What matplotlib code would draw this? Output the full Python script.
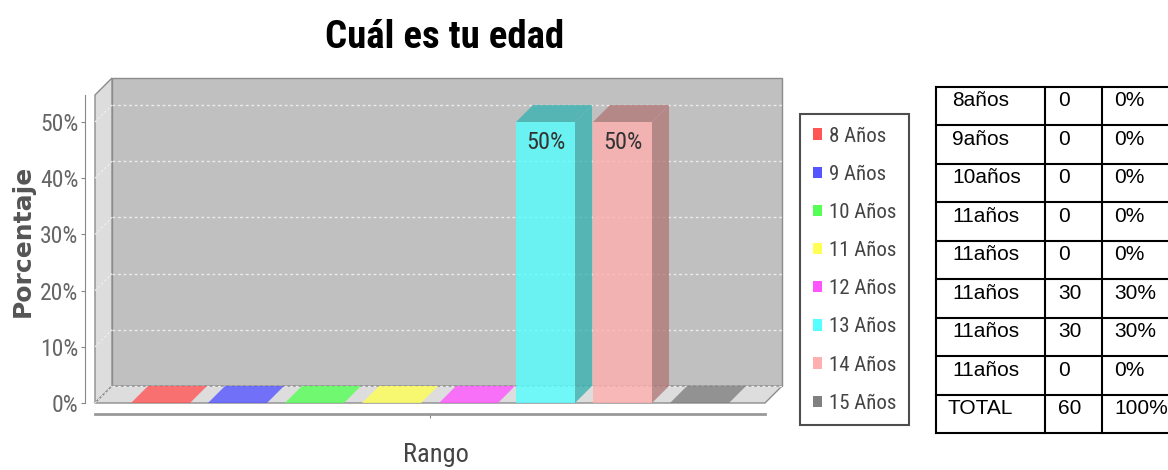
import matplotlib
matplotlib.use("Agg")
import matplotlib.pyplot as plt
import matplotlib.colors as mcolors
from matplotlib.patches import Polygon, Patch

# datos del grafico
categorias = ["8 Años", "9 Años", "10 Años", "11 Años", "12 Años", "13 Años", "14 Años", "15 Años"]
porcentajes = [0, 0, 0, 0, 0, 50, 50, 0]
colores = ["#ff5555", "#5555ff", "#55ff55", "#ffff55", "#ff55ff", "#55ffff", "#ffafaf", "#808080"]

# datos de la tabla
tabla_edad = ["8años", "9años", "10años", "11años", "11años", "11años", "11años", "11años", "TOTAL"]
tabla_frec = ["0", "0", "0", "0", "0", "30", "30", "0", "60"]
tabla_pct = ["0%", "0%", "0%", "0%", "0%", "30%", "30%", "0%", "100%"]

NARROW = ["Roboto Condensed", "DejaVu Sans Condensed", "Liberation Sans Narrow", "Roboto", "DejaVu Sans"]
W, H = 1168, 470


def px_box(x0, y0, x1, y1):
    return [x0 / W, 1 - y1 / H, (x1 - x0) / W, (y1 - y0) / H]


def darker(c):
    r, g, b = mcolors.to_rgb(c)
    return (r * 0.7, g * 0.7, b * 0.7)


fig = plt.figure(figsize=(W / 100, H / 100), dpi=100)

# ---- grafico 3D (estilo jfreechart) ----
SLOT = 77.0        # pixeles por categoria
X0 = 160.5         # centro de la primera barra
PX_PCT = 5.62      # pixeles por 1%
XL = (95 - X0) / SLOT
XR = (782 - X0) / SLOT
YT = (403 - 78) / PX_PCT
DX = 17 / SLOT
DY = 17 / PX_PCT
BW = 59 / SLOT
Y_FRONT_TOP = (403 - 95) / PX_PCT

ax = fig.add_axes(px_box(95, 78, 782, 403))
ax.set_xlim(XL, XR)
ax.set_ylim(0, YT)
ax.patch.set_visible(False)

edge = "#8c8c8c"
# pared del fondo
ax.add_patch(Polygon([(XL + DX, DY), (XL + DX, YT), (XR, YT), (XR, DY)],
                     closed=True, facecolor="#c0c0c0", edgecolor=edge, lw=1, zorder=0, clip_on=False))
# pared izquierda
ax.add_patch(Polygon([(XL, 0), (XL, Y_FRONT_TOP), (XL + DX, YT), (XL + DX, DY)],
                     closed=True, facecolor="#dddddd", edgecolor=edge, lw=1, zorder=0, clip_on=False))
# piso
ax.add_patch(Polygon([(XL, 0), (XL + DX, DY), (XR, DY), (XR - DX, 0)],
                     closed=True, facecolor="#dddddd", edgecolor=edge, lw=1, zorder=0, clip_on=False))

for v in range(0, 60, 10):
    ax.plot([XL + DX, XR], [v + DY, v + DY], color="#ececec", lw=1,
            linestyle=(0, (2, 2)), zorder=1, clip_on=False)
    ax.plot([XL, XL + DX], [v, v + DY], color="#f0f0f0", lw=0.8,
            linestyle=(0, (2, 2)), zorder=1, clip_on=False)

pos = list(range(len(categorias)))
ax.bar(pos, porcentajes, width=BW, color=colores, alpha=0.8, linewidth=0, zorder=3)
for i, v in enumerate(porcentajes):
    x0, x1 = i - BW / 2, i + BW / 2
    top_col = darker(colores[i]) if v > 0 else colores[i]
    ax.add_patch(Polygon([(x0, v), (x0 + DX, v + DY), (x1 + DX, v + DY), (x1, v)],
                         closed=True, facecolor=top_col, alpha=0.8, lw=0, zorder=3))
    if v > 0:
        ax.add_patch(Polygon([(x1, 0), (x1 + DX, DY), (x1 + DX, v + DY), (x1, v)],
                             closed=True, facecolor=darker(colores[i]), alpha=0.8, lw=0, zorder=3))
        ax.text(i, v - 3.7, f"{v}%", ha="center", va="center", fontsize=17.5,
                color="#333333", family=NARROW, zorder=4)

for s in ["top", "right"]:
    ax.spines[s].set_visible(False)
ax.spines["left"].set_position(("outward", 7))
ax.spines["left"].set_bounds(0, Y_FRONT_TOP)
ax.spines["left"].set_color("#888888")
ax.spines["bottom"].set_position(("outward", 8))
ax.spines["bottom"].set_bounds(XL, (765 - X0) / SLOT)
ax.spines["bottom"].set_color("#999999")
ax.spines["bottom"].set_linewidth(2)

ax.set_yticks(range(0, 60, 10))
ax.set_yticklabels([f"{v}%" for v in range(0, 60, 10)])
ax.set_xticks([(len(categorias) - 1) / 2])
ax.set_xticklabels([""])
ax.tick_params(axis="both", length=3, color="#888888", labelsize=17,
               labelcolor="#666666", labelfontfamily=NARROW, pad=2)

fig.text(436 / W, 1 - 455 / H, "Rango", ha="center", va="center", fontsize=19,
         color="#444444", family=NARROW)
fig.text(23 / W, 1 - 241 / H, "Porcentaje", ha="center", va="center", rotation=90,
         fontsize=18, fontweight="bold", color="#555555", family="DejaVu Sans")
fig.text(445 / W, 1 - 37 / H, "Cuál es tu edad", ha="center", va="center", fontsize=28,
         fontweight="bold", color="black", family=NARROW)

handles = [Patch(facecolor=c, edgecolor="none") for c in colores]
leg = fig.legend(handles, categorias, loc="upper left", bbox_to_anchor=(800 / W, 1 - 114 / H),
                 borderaxespad=0, frameon=True, fancybox=False, handlelength=0.45, handleheight=0.45,
                 handletextpad=0.36, labelspacing=0.92, borderpad=0.6,
                 prop={"family": NARROW, "size": 15}, labelcolor="#444444")
leg.get_frame().set_edgecolor("#222222")
leg.get_frame().set_linewidth(1.5)

# ---- tabla ----
tax = fig.add_axes(px_box(925, 75, 1168, 445))
tax.set_xlim(925, 1168)
tax.set_ylim(445, 75)
tax.axis("off")
TOP, ROWH = 87, 38.44
cols = [936, 1045, 1102, 1172]
nrows = len(tabla_edad)
bottom = TOP + nrows * ROWH
ARIAL = ["Liberation Sans", "DejaVu Sans"]
for k in range(nrows + 1):
    tax.plot([cols[0], cols[-1]], [TOP + k * ROWH] * 2, color="black", lw=1.5, clip_on=True)
for c in cols:
    tax.plot([c, c], [TOP, bottom], color="black", lw=1.5, clip_on=True)
for k in range(nrows):
    y = TOP + k * ROWH + 14
    tax.text(cols[0] + (12 if tabla_edad[k] == "TOTAL" else 16), y, tabla_edad[k],
             ha="left", va="center", fontsize=15, family=ARIAL)
    tax.text(cols[1] + 13, y, tabla_frec[k], ha="left", va="center", fontsize=15, family=ARIAL)
    tax.text(cols[2] + 12, y, tabla_pct[k], ha="left", va="center", fontsize=15, family=ARIAL)

fig.savefig("out.png", dpi=100)
